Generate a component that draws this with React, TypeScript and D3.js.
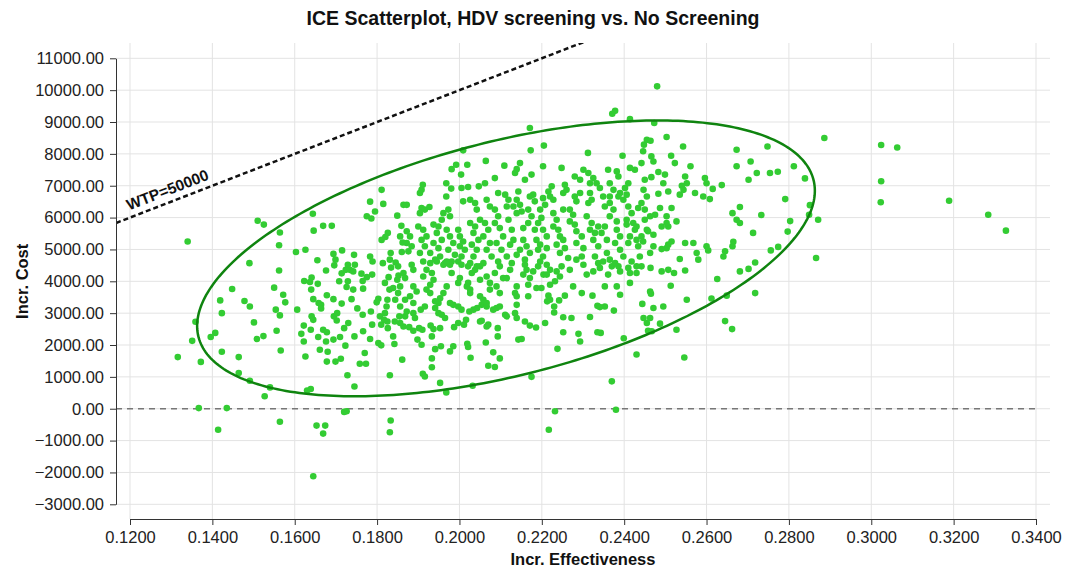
import React, { useRef, useEffect } from 'react';
import { select, scaleLinear, axisBottom, axisLeft, format, line, range } from 'd3';

// chart values
const xTicks = [0.12, 0.14, 0.16, 0.18, 0.2, 0.22, 0.24, 0.26, 0.28, 0.3, 0.32, 0.34];
const yTicks = [-3000, -2000, -1000, 0, 1000, 2000, 3000, 4000, 5000, 6000, 7000, 8000, 9000, 10000, 11000];
const wtp = 50000;
const ellipseCentre = [0.2113, 4720];
const ellipseRadii = [0.075, 4330];
const ellipseCorr = 0.49;

// [incr. effectiveness, incr. cost]
const samplesLeft: [number, number][] = [
  [0.1340,5250],[0.1510,5900],[0.1525,5780],[0.1644,6120],[0.1669,5740],[0.1690,5740],[0.1646,5590],[0.1564,5530],[0.1562,5130],[0.1603,4920],
  [0.1626,4990],[0.1490,4570],[0.1562,4340],[0.1448,3760],[0.1419,3400],[0.1423,3000],[0.1478,3380],[0.1491,3210],[0.1550,3800],[0.1572,3580],
  [0.1577,3340],[0.1554,3110],[0.1564,2930],[0.1606,3110],[0.1359,2730],[0.1501,2710],[0.1556,2450],[0.1407,2380],[0.1396,2250],[0.1508,2190],
  [0.1524,2280],[0.1351,2130],[0.1316,1620],[0.1372,1470],[0.1423,1790],[0.1464,1620],[0.1566,1830],[0.1464,1120],[0.1491,880],[0.1540,670],
  [0.1527,390],[0.1367,20],[0.1435,20],[0.1630,570],[0.1639,620],[0.1726,-80],[0.1720,-100],[0.1745,700],[0.1728,1050],[0.1626,1640],
  [0.1678,1480],[0.1699,1480],[0.1712,1570],[0.1680,1790],[0.1661,1850],[0.1622,2110],[0.1616,2350],[0.1622,2610],[0.1641,2900],[0.1645,2790],
  [0.1639,2480],[0.1657,2250],[0.1669,2480],[0.1678,2400],[0.1676,2110],[0.1694,2170],[0.1710,2250],[0.1720,2530],[0.1730,2690],[0.1702,2770],
  [0.1695,2900],[0.1703,3000],[0.1745,2270],[0.1723,1980],[0.1770,1750],[0.1758,1410],[0.1773,1410],[0.1783,2190],[0.1766,2430],[0.1788,2640],
  [0.1765,2950],[0.1752,3150],[0.1785,3050],[0.1807,2900],[0.1810,2640],[0.1803,2060],[0.1810,1990],[0.1842,2030],[0.1861,1540],[0.1831,1050],
  [0.1839,2270],[0.1826,2530],[0.1868,2900],[0.1854,2900],[0.1738,3440],[0.1714,3300],[0.1694,3440],[0.1678,3560],[0.1664,3260],[0.1664,3150],
  [0.1645,3440],[0.1658,3320],[0.1640,3740],[0.1656,3920],[0.1623,4010],[0.1641,4120],[0.1637,3980],[0.1708,4000],[0.1729,4000],[0.1726,3820],
  [0.1742,3740],[0.1766,3770],[0.1762,4240],[0.1775,4130],[0.1765,4010],[0.1714,4250],[0.1724,4360],[0.1734,4360],[0.1729,4520],[0.1746,4520],
  [0.1742,4310],[0.1655,4660],[0.1676,4340],[0.1696,4500],[0.1699,4680],[0.1694,4860],[0.1715,4970],[0.1744,4830],[0.1783,4780],[0.1789,4620],
  [0.1814,4570],[0.1788,4210],[0.1828,4130],[0.1803,3450],[0.1799,3340],[0.1823,3210],[0.1825,3420],[0.1844,3420],[0.1851,3630],[0.1839,3790],
  [0.1830,3740],[0.1856,3840],[0.1849,4050],[0.1852,4180],[0.1834,4430],[0.1845,4590],[0.1851,4470],[0.1833,4890],[0.1860,4920],[0.1872,5200],
  [0.1826,5520],[0.1820,5390],[0.1856,5410],[0.1859,5740],[0.1849,6060],[0.1783,6500],[0.1815,6430],[0.1795,6190],[0.1775,6040],[0.1786,5970],
  [0.1872,5570],[0.1862,5220],
];

const samplesBelowZero: [number, number][] = [
  [0.1414,-660],[0.1564,-410],[0.1653,-530],[0.1674,-530],[0.1669,-780],[0.1645,-2120],[0.1833,-370],[0.1831,-740],
  [0.2217,-660],[0.2232,-80],[0.2380,-30],
];

const samplesUpperCentre: [number, number][] = [
  [0.2009,8110],[0.1992,7660],[0.1981,7520],[0.2019,7660],[0.2004,7350],[0.2064,7780],[0.2109,7630],[0.2086,7240],[0.2171,8810],
  [0.1968,7080],[0.1980,6910],[0.1968,6660],[0.2005,6930],[0.2021,6960],[0.2047,6980],[0.2062,7080],
  [0.1911,7030],[0.1904,6770],[0.1908,6870],[0.1811,6870],[0.1864,6400],[0.1872,6400],
  [0.1908,6300],[0.1916,6250],[0.1927,6330],[0.1904,6140],[0.1961,6140],[0.1973,6250],[0.1977,6040],[0.1957,5930],
  [0.2009,6510],[0.2026,6560],[0.2038,6460],[0.2042,6250],[0.2066,6560],[0.2074,6350],[0.2086,6250],[0.2094,6040],
  [0.2094,6770],[0.2111,6720],[0.2119,6560],[0.2115,6350],[0.2131,6350],[0.2139,6140],
  [0.1811,5300],[0.1880,5410],[0.1884,5100],[0.1876,4940],
  [0.1900,5720],[0.1912,5620],[0.1920,5410],[0.1908,5300],[0.1916,5100],[0.1904,4890],[0.1831,4680],
  [0.1937,5780],[0.1949,5720],[0.1945,5520],[0.1957,5300],[0.1937,5200],[0.1949,5040],[0.1929,4890],[0.1941,4680],[0.1953,4780],[0.1965,4570],
  [0.1969,5620],[0.1977,5410],[0.1985,5200],[0.1973,4990],[0.1989,4830],[0.1981,4620],
  [0.1997,5620],[0.2001,5410],[0.2009,5250],[0.2001,5100],[0.2013,4990],[0.2005,4780],
  [0.2026,5830],[0.2038,5720],[0.2034,5520],[0.2046,5300],[0.2030,5150],[0.2042,4990],[0.2034,4780],
  [0.2050,5930],[0.2062,5830],[0.2070,5620],[0.2058,5410],[0.2074,5200],[0.2066,4990],[0.2078,4780],
  [0.2086,5830],[0.2098,5670],[0.2106,5410],[0.2090,5200],[0.2102,4990],[0.2115,4780],[0.2094,4620],
  [0.2119,5930],[0.2127,5620],[0.2123,5150],[0.2058,4570],[0.2050,4470],
];

const samplesLowerCentre: [number, number][] = [
  [0.1911,1100],[0.1916,1010],[0.1933,1300],[0.1933,1580],[0.1953,810],[0.1968,510],[0.2032,720],[0.2027,1600],[0.2021,1940],[0.2019,2040],
  [0.1977,1800],[0.1985,1960],[0.1955,1960],[0.1941,1870],[0.1933,2270],[0.1908,2010],[0.1898,2170],[0.2070,1350],[0.2086,1310],[0.2082,1770],
  [0.2098,1580],[0.2064,2080],[0.2093,2270],[0.2093,2530],[0.2066,2580],[0.2070,2640],[0.2050,2740],[0.2054,2760],[0.2016,2790],[0.2011,2640],
  [0.1987,2560],[0.1997,2690],[0.1953,2530],[0.1937,2500],[0.1930,2610],[0.1910,2480],[0.1902,2530],[0.1888,2450],[0.1878,2560],[0.1864,2580],
  [0.1856,2690],[0.1843,2740],[0.1825,2740],[0.1817,2790],[0.1819,3000],[0.1872,3050],[0.1888,3000],[0.1892,2850],
  [0.1906,3110],[0.1916,3210],[0.1941,3160],[0.1949,3000],[0.1957,2950],[0.1965,2850],[0.1977,3320],[0.1985,3260],[0.1997,3210],[0.2005,3110],
  [0.2024,3050],[0.2034,3110],[0.2043,3160],[0.2054,3260],[0.2066,3210],[0.2082,3110],[0.2090,3160],[0.2098,3210],[0.2111,2950],[0.2115,2900],
  [0.2135,3000],[0.2139,3260],[0.2143,2170],[0.2050,3530],[0.2058,3420],[0.2066,3320],[0.2026,3630],[0.2026,3740],[0.2018,3840],[0.2021,3950],
  [0.2030,4260],[0.2038,4360],[0.2042,4470],[0.2021,4470],[0.2026,4570],[0.2050,4050],[0.2066,4150],[0.2074,3950],[0.2074,3740],[0.2090,3840],
  [0.2098,3630],[0.2086,4260],[0.2098,4470],[0.2106,4100],[0.2115,4100],[0.2123,4360],[0.2127,4570],[0.2139,3840],[0.2135,3630],[0.2139,3530],
  [0.1981,4260],[0.1977,4520],[0.2001,4100],[0.1997,3950],[0.1969,3840],[0.1961,3630],[0.1953,3470],[0.1949,3320],[0.1941,3370],[0.1929,3630],
  [0.1920,3740],[0.1929,3890],[0.1937,4050],[0.1933,4260],[0.1920,4360],[0.1912,4150],[0.1888,4360],[0.1884,4520],[0.1864,4260],[0.1868,4100],
  [0.1888,3840],[0.1896,3680],[0.1880,3530],[0.1888,3320],[0.1868,3420],[0.1856,3210],[0.1819,3950],
  [0.1912,4620],[0.1929,4570],[0.1945,4620],[0.1961,4520],[0.1969,4620],[0.1997,4620],[0.2005,4520],
];

const samplesRightLower: [number, number][] = [
  [0.2151,2190],[0.2175,1000],[0.2238,1880],[0.2252,2400],[0.2293,2110],[0.2289,2350],[0.2335,2400],[0.2343,2380],[0.2370,860],
  [0.2399,2210],[0.2430,1700],[0.2458,2450],[0.2455,2690],[0.2447,2850],[0.2444,3290],[0.2375,3080],[0.2353,3210],[0.2335,3230],[0.2341,3190],
  [0.2317,2880],[0.2272,2850],[0.2252,2870],[0.2208,2690],[0.2186,2550],[0.2171,2610],[0.2159,2740],[0.2139,2850],
  [0.2167,3530],[0.2216,3550],[0.2220,3420],[0.2213,3370],[0.2230,3210],[0.2230,3020],[0.2242,3400],[0.2256,3550],[0.2276,3840],[0.2297,3630],
  [0.2323,3550],[0.2353,3840],[0.2382,3840],[0.2390,3580],[0.2414,3950],[0.2430,4260],[0.2442,4470],[0.2187,3790],[0.2199,3790],[0.2220,3890],
  [0.2232,4000],[0.2204,4210],[0.2212,4210],[0.2167,3890],[0.2171,4100],[0.2155,4210],[0.2163,4360],[0.2159,4520],[0.2191,4470],[0.2196,4620],
  [0.2179,4310],[0.2236,4310],[0.2244,4150],[0.2248,4470],[0.2268,4360],[0.2301,4520],[0.2309,4210],[0.2325,4310],[0.2337,4570],[0.2349,4620],
  [0.2341,4420],[0.2361,4210],[0.2370,4470],[0.2378,4570],[0.2386,4470],[0.2390,4310],[0.2410,4420],[0.2414,4260],[0.2212,4520],[0.2220,4360],
];

const samplesRightUpper: [number, number][] = [
  [0.2173,8110],[0.2205,8260],[0.2312,8030],[0.2396,7940],[0.2448,8290],[0.2455,8440],[0.2147,7710],[0.2135,7400],[0.2139,7520],[0.2159,7190],
  [0.2175,7350],[0.2203,7610],[0.2248,7560],[0.2301,7500],[0.2313,7400],[0.2280,7290],[0.2293,7190],[0.2325,7240],[0.2333,7080],[0.2317,7080],
  [0.2361,7500],[0.2382,7450],[0.2386,7290],[0.2414,7560],[0.2426,7500],[0.2410,7080],[0.2402,6930],[0.2406,6720],[0.2365,7080],[0.2374,6870],
  [0.2341,6930],[0.2349,6660],[0.2365,6660],[0.2317,6770],[0.2321,6560],[0.2313,6460],[0.2293,6770],[0.2280,6660],[0.2284,6510],[0.2256,7030],
  [0.2252,6770],[0.2260,6870],[0.2216,6820],[0.2224,6980],[0.2220,6660],[0.2228,6560],[0.2203,6610],[0.2208,6400],[0.2196,6250],[0.2179,6720],
  [0.2171,6660],[0.2183,6510],[0.2143,6820],[0.2139,6560],[0.2147,6400],[0.2151,6190],[0.2167,6250],[0.2175,6040],[0.2167,5830],[0.2155,5670],
  [0.2131,5300],[0.2155,5300],[0.2163,5100],[0.2147,4990],[0.2139,4830],[0.2159,4680],[0.2171,4890],[0.2183,5620],[0.2191,5830],[0.2199,5990],
  [0.2203,5620],[0.2212,5410],[0.2187,5300],[0.2196,5150],[0.2191,4990],[0.2212,5040],[0.2203,4780],[0.2228,6140],[0.2236,5930],[0.2228,5720],
  [0.2240,5620],[0.2244,5410],[0.2236,5150],[0.2252,5300],[0.2256,5040],[0.2244,4890],[0.2264,4730],[0.2252,6250],[0.2268,6250],[0.2276,6090],
  [0.2268,5880],[0.2280,5780],[0.2284,5570],[0.2297,5410],[0.2284,5200],[0.2301,5040],[0.2297,4780],[0.2284,4680],[0.2309,6040],[0.2321,5830],
  [0.2317,5620],[0.2329,5520],[0.2325,5300],[0.2337,5100],[0.2329,4780],[0.2358,4890],[0.2353,6350],[0.2365,6460],[0.2374,6250],[0.2365,6040],
  [0.2382,5880],[0.2382,5620],[0.2390,5410],[0.2378,5200],[0.2390,4990],[0.2398,4780],[0.2398,6560],[0.2410,6350],[0.2418,6140],[0.2406,5930],
  [0.2422,5830],[0.2426,5620],[0.2430,5300],[0.2414,5410],[0.2434,5100],[0.2438,4780],[0.2442,6460],[0.2450,6250],[0.2455,6660],[0.2447,6870],
  [0.2450,7190],[0.2450,5930],[0.2455,5620],[0.2442,5410],[0.2337,5720],[0.2345,5520],
];

const samplesRightTail: [number, number][] = [
  [0.2480,10120],[0.2371,9260],[0.2378,9350],[0.2414,9090],[0.2473,8970],[0.2503,8530],[0.2464,8410],[0.2446,8080],[0.2543,8230],[0.2466,7920],
  [0.2471,7760],[0.2514,7940],[0.2523,7710],[0.2561,7610],[0.2442,7710],[0.2483,7430],[0.2499,7350],[0.2495,7080],[0.2466,7270],[0.2390,6770],
  [0.2507,6820],[0.2483,6750],[0.2548,7290],[0.2552,7080],[0.2540,7000],[0.2544,6870],[0.2535,6720],[0.2572,6770],[0.2592,6660],[0.2608,6580],
  [0.2596,7240],[0.2600,7080],[0.2615,6900],[0.2637,7020],[0.2673,8130],[0.2673,7610],[0.2707,7760],[0.2702,7190],[0.2722,7400],[0.2754,7400],
  [0.2773,7440],[0.2748,8230],[0.2812,7610],[0.2839,7230],[0.2886,8500],[0.2791,6580],[0.2681,6330],[0.2663,6140],[0.2673,5930],[0.2681,5830],
  [0.2733,6080],[0.2803,5890],[0.2851,6390],[0.2849,6090],[0.2871,5930],[0.2797,5560],[0.2774,5080],[0.2756,4970],[0.2866,4730],[0.2713,5520],
  [0.2665,5240],[0.2663,5100],[0.2645,4940],[0.2641,4780],[0.2600,5100],[0.2604,4970],[0.2576,4890],[0.2580,4680],[0.2568,5200],[0.2548,5200],
  [0.2515,5250],[0.2507,5150],[0.2503,5040],[0.2535,4700],[0.2491,5010],[0.2491,4310],[0.2507,4360],[0.2521,4260],[0.2548,4340],[0.2464,4420],
  [0.2718,4590],[0.2702,4390],[0.2681,4310],[0.2626,4070],[0.2718,3630],[0.2649,3550],[0.2612,3460],[0.2552,3420],[0.2513,3860],[0.2495,3210],
  [0.2471,3160],[0.2463,3680],[0.2465,3610],[0.2645,2750],[0.2662,2500],[0.2527,2480],[0.2487,2670],[0.2467,2430],[0.2463,2850],[0.2546,1610],
  [0.2386,6660],[0.2434,6300],[0.2463,6040],[0.2475,6090],[0.2487,6300],[0.2503,6040],[0.2515,6300],[0.2527,5880],[0.2507,5720],[0.2353,5720],
  [0.2406,5780],[0.2430,5720],[0.2458,5570],[0.2471,5460],[0.2491,5720],[0.2503,5830],[0.2358,5300],[0.2410,5200],[0.2365,4680],[0.2418,4620],
  [0.2430,4470],[0.2463,4890],[0.2471,5100],[0.2446,5250],
  [0.3024,8280],[0.3063,8200],[0.3024,7140],[0.3023,6480],[0.3189,6530],[0.3284,6090],[0.3327,5590],
];

const allSamples = [
  ...samplesLeft, ...samplesBelowZero, ...samplesUpperCentre, ...samplesLowerCentre,
  ...samplesRightLower, ...samplesRightUpper, ...samplesRightTail,
];

const dim = {
  width: 1067,
  height: 571,
  left: 116,
  right: 1050,
  top: 43,
  bottom: 519,
};

const font = '"Liberation Sans", Arial, Helvetica, sans-serif';

const x = scaleLinear().domain([0.12, 0.34]).range([130, 1036]);
const y = scaleLinear().domain([-3000, 11000]).range([504.3, 58.3]);

const App = () => {
  const xAxisRef = useRef<SVGGElement>(null);
  const yAxisRef = useRef<SVGGElement>(null);

  useEffect(() => {
    const gx = select(xAxisRef.current);
    gx.call(
      axisBottom(x).tickValues(xTicks).tickFormat(format('.4f')).tickSize(6).tickSizeOuter(0).tickPadding(6)
    );
    gx.attr('font-size', 16.5).attr('font-family', font).attr('color', '#333');
    gx.selectAll('text').attr('fill', '#222');

    const gy = select(yAxisRef.current);
    gy.call(
      axisLeft(y).tickValues(yTicks).tickFormat(format('.2f')).tickSize(6).tickSizeOuter(0).tickPadding(6)
    );
    gy.attr('font-size', 16.5).attr('font-family', font).attr('color', '#333');
    gy.selectAll('text').attr('fill', '#222');
  }, []);

  // confidence ellipse
  const [cx, cy] = ellipseCentre;
  const [rx, ry] = ellipseRadii;
  const s = Math.sqrt(1 - ellipseCorr * ellipseCorr);
  const ellipsePath = line<number>()
    .x((t) => x(cx + rx * Math.cos(t)))
    .y((t) => y(cy + ry * (ellipseCorr * Math.cos(t) + s * Math.sin(t))))(range(0, Math.PI * 2 + 0.02, 0.02));

  // WTP line
  const e0 = x.invert(dim.left);
  const e1 = y.invert(dim.top) / wtp + 0.01;
  const wtpPath = line<number>()
    .x((e) => x(e))
    .y((e) => y(e * wtp))([e0, e1]);
  const labelEff = 0.1302;
  const angle = (Math.atan2(y(wtp * 0.2) - y(wtp * 0.1), x(0.2) - x(0.1)) * 180) / Math.PI;

  return (
    <svg
      width={dim.width}
      height={dim.height}
      style={{ position: 'absolute', left: 0, top: 0, background: '#fff' }}
      fontFamily={font}
    >
      <defs>
        <clipPath id="plot-clip">
          <rect x={dim.left} y={dim.top} width={dim.right - dim.left} height={dim.bottom - dim.top} />
        </clipPath>
      </defs>

      <text x={533} y={25} textAnchor="middle" fontSize={19.5} fontWeight="bold" fill="#111">
        ICE Scatterplot, HDV screening vs. No Screening
      </text>

      <g>
        {xTicks.map((t) => (
          <line key={`gx${t}`} x1={x(t)} x2={x(t)} y1={dim.top} y2={dim.bottom} stroke="#e3e3e3" strokeWidth={1} />
        ))}
        {yTicks.map((t) => (
          <line key={`gy${t}`} x1={dim.left} x2={dim.right} y1={y(t)} y2={y(t)} stroke="#e3e3e3" strokeWidth={1} />
        ))}
      </g>

      <line x1={dim.left} x2={x(0.34)} y1={y(0)} y2={y(0)} stroke="#777" strokeWidth={1.5} strokeDasharray="6,5" />

      <g clipPath="url(#plot-clip)">
        <path d={wtpPath ?? ''} fill="none" stroke="#111" strokeWidth={2.5} strokeDasharray="5,3" />
      </g>
      <text
        transform={`translate(${x(labelEff)},${y(labelEff * wtp)}) rotate(${angle})`}
        y={-7}
        textAnchor="middle"
        fontSize={15.5}
        fontWeight="bold"
        fill="#111"
      >
        WTP=50000
      </text>

      <g>
        {allSamples.map((d, i) => (
          <circle key={i} cx={x(d[0])} cy={y(d[1])} r={3.3} fill="#33cc33" />
        ))}
      </g>

      <path d={ellipsePath ?? ''} fill="none" stroke="#0f840f" strokeWidth={2.5} />

      <g ref={xAxisRef} transform={`translate(0,${dim.bottom})`} />
      <g ref={yAxisRef} transform={`translate(${dim.left},0)`} />

      <text x={x(0.23)} y={565} textAnchor="middle" fontSize={16.5} fontWeight="bold" fill="#111">
        Incr. Effectiveness
      </text>
      <text transform={`translate(28,${y(4000)}) rotate(-90)`} textAnchor="middle" fontSize={16.5} fontWeight="bold" fill="#111">
        Incr. Cost
      </text>
    </svg>
  );
};

export default App;
